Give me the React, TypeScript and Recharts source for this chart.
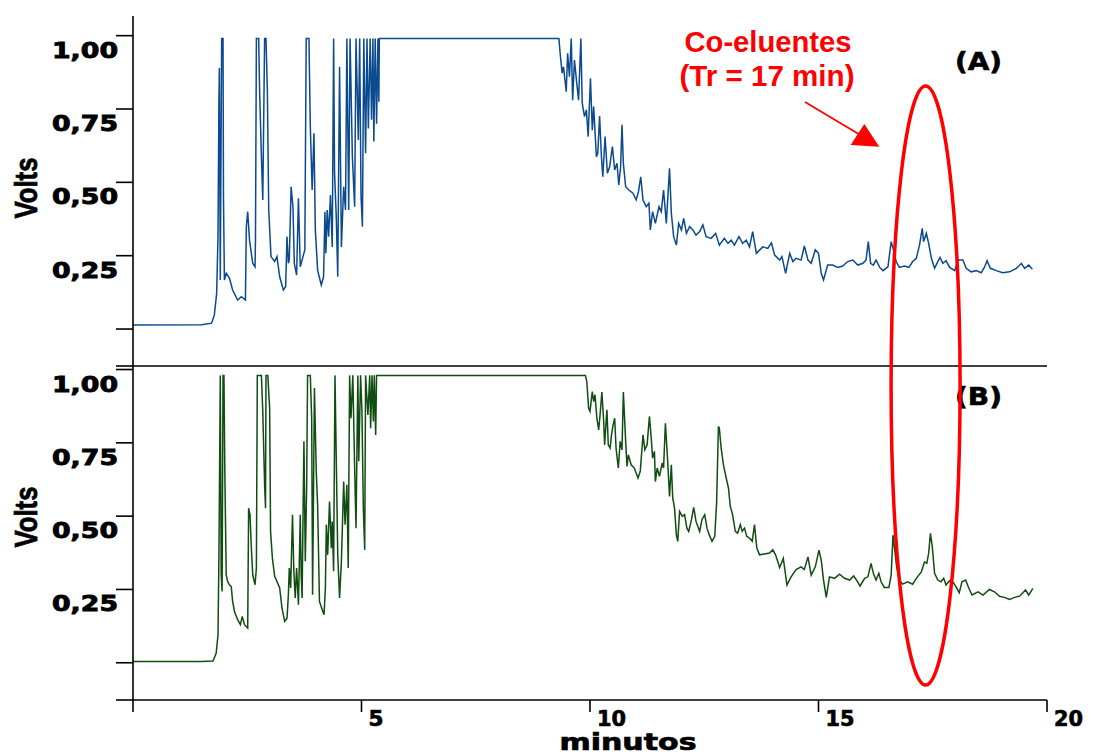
import React from 'react';
import { LineChart, Line, XAxis, YAxis } from 'recharts';

// ---- data: retention time (min) / detector signal (V) ----
const timeTicks = [0, 5, 10, 15, 20];
const voltTicksA = [-0.126, 0, 0.25, 0.5, 0.75, 1];
const voltTicksB = [-0.127, 0, 0.25, 0.5, 0.75, 1];
const voltLabels: Record<string, string> = { '0.25': '0,25', '0.5': '0,50', '0.75': '0,75', '1': '1,00' };
const timeLabels: Record<string, string> = { '5': '5', '10': '10', '15': '15', '20': '20' };

const traceA: [number, number][] = [
  [0, 0.014], [1.5, 0.015], [1.72, 0.02], [1.78, 0.048], [1.83, 0.12], [1.86, 0.315], [1.88, 0.78], [1.89, 0.89],
  [1.91, 0.167], [1.94, 0.99], [1.97, 0.99], [1.98, 0.45], [2.0, 0.167], [2.04, 0.19], [2.11, 0.174], [2.18, 0.133],
  [2.29, 0.099], [2.37, 0.11], [2.46, 0.099], [2.48, 0.349], [2.51, 0.4], [2.55, 0.303], [2.62, 0.224], [2.67, 0.212],
  [2.68, 0.303], [2.7, 0.99], [2.75, 0.99], [2.77, 0.815], [2.81, 0.587], [2.84, 0.44], [2.88, 0.99], [2.91, 0.99],
  [2.94, 0.815], [2.97, 0.406], [3.02, 0.247], [3.1, 0.23], [3.15, 0.247], [3.21, 0.178], [3.29, 0.133], [3.34, 0.144],
  [3.37, 0.315], [3.4, 0.224], [3.42, 0.235], [3.46, 0.485], [3.5, 0.417], [3.53, 0.224], [3.58, 0.184], [3.62, 0.446],
  [3.66, 0.212], [3.72, 0.247], [3.76, 0.27], [3.79, 0.99], [3.85, 0.99], [3.88, 0.69], [3.92, 0.474], [3.96, 0.667],
  [3.99, 0.338], [4.04, 0.2], [4.12, 0.15], [4.17, 0.178], [4.2, 0.4], [4.22, 0.258], [4.25, 0.406], [4.28, 0.315],
  [4.32, 0.457], [4.36, 0.28], [4.39, 0.99], [4.41, 0.536], [4.45, 0.372], [4.48, 0.178], [4.52, 0.894], [4.56, 0.28],
  [4.61, 0.485], [4.65, 0.406], [4.68, 0.99], [4.72, 0.406], [4.75, 0.99], [4.8, 0.587], [4.85, 0.417], [4.88, 0.99],
  [4.93, 0.644], [4.96, 0.99], [4.99, 0.451], [5.02, 0.349], [5.05, 0.99], [5.09, 0.599], [5.12, 0.99], [5.15, 0.684],
  [5.19, 0.99], [5.22, 0.713], [5.25, 0.99], [5.27, 0.639], [5.3, 0.99], [5.33, 0.7], [5.36, 0.99], [5.38, 0.775],
  [5.39, 0.99], [9.32, 0.99], [9.35, 0.934], [9.39, 0.872], [9.42, 0.894], [9.48, 0.809], [9.51, 0.94], [9.55, 0.86],
  [9.59, 0.99], [9.62, 0.78], [9.66, 0.917], [9.71, 0.838], [9.75, 0.78], [9.8, 0.99], [9.83, 0.77], [9.88, 0.724],
  [9.92, 0.747], [9.96, 0.656], [10.01, 0.855], [10.05, 0.678], [10.08, 0.758], [10.14, 0.587], [10.17, 0.599],
  [10.21, 0.726], [10.25, 0.587], [10.28, 0.519], [10.33, 0.656], [10.38, 0.531], [10.43, 0.553], [10.49, 0.622],
  [10.54, 0.542], [10.59, 0.565], [10.63, 0.491], [10.67, 0.553], [10.7, 0.696], [10.73, 0.565], [10.78, 0.485],
  [10.85, 0.474], [10.94, 0.463], [11.01, 0.44], [11.06, 0.468], [11.11, 0.519], [11.16, 0.44], [11.23, 0.417],
  [11.29, 0.429], [11.32, 0.338], [11.37, 0.4], [11.43, 0.36], [11.51, 0.417], [11.56, 0.4], [11.61, 0.474],
  [11.67, 0.36], [11.74, 0.548], [11.78, 0.394], [11.83, 0.315], [11.89, 0.286], [11.94, 0.36], [12.0, 0.338],
  [12.05, 0.377], [12.11, 0.326], [12.18, 0.349], [12.25, 0.338], [12.32, 0.32], [12.4, 0.332], [12.47, 0.355],
  [12.54, 0.315], [12.65, 0.309], [12.75, 0.326], [12.83, 0.286], [12.94, 0.309], [13.02, 0.292], [13.09, 0.303],
  [13.16, 0.286], [13.26, 0.315], [13.34, 0.292], [13.42, 0.303], [13.49, 0.28], [13.56, 0.332], [13.64, 0.258],
  [13.78, 0.28], [13.89, 0.275], [13.97, 0.294], [14.04, 0.252], [14.15, 0.235], [14.2, 0.247], [14.28, 0.19],
  [14.37, 0.258], [14.44, 0.23], [14.51, 0.241], [14.62, 0.235], [14.69, 0.283], [14.77, 0.235], [14.84, 0.224],
  [14.93, 0.27], [15.0, 0.258], [15.06, 0.19], [15.11, 0.167], [15.2, 0.218], [15.31, 0.218], [15.42, 0.21],
  [15.53, 0.215], [15.64, 0.23], [15.75, 0.235], [15.86, 0.218], [15.97, 0.224], [16.04, 0.235], [16.09, 0.298],
  [16.14, 0.224], [16.2, 0.218], [16.26, 0.235], [16.34, 0.21], [16.41, 0.199], [16.52, 0.212], [16.59, 0.298],
  [16.64, 0.27], [16.7, 0.23], [16.77, 0.21], [16.88, 0.215], [16.98, 0.21], [17.06, 0.23], [17.14, 0.241],
  [17.21, 0.286], [17.27, 0.343], [17.3, 0.298], [17.36, 0.326], [17.41, 0.292], [17.47, 0.241], [17.54, 0.207],
  [17.61, 0.23], [17.66, 0.244], [17.72, 0.224], [17.79, 0.233], [17.87, 0.21], [17.98, 0.199], [18.05, 0.235],
  [18.16, 0.235], [18.23, 0.207], [18.34, 0.195], [18.45, 0.199], [18.56, 0.192], [18.63, 0.21], [18.69, 0.233],
  [18.76, 0.207], [18.89, 0.199], [19.03, 0.192], [19.18, 0.195], [19.33, 0.207], [19.44, 0.224], [19.51, 0.207],
  [19.6, 0.218], [19.68, 0.204],
];

const traceB: [number, number][] = [
  [0, 0.004], [1.5, 0.004], [1.75, 0.006], [1.82, 0.032], [1.86, 0.095], [1.88, 0.357], [1.91, 0.98], [1.93, 0.3],
  [1.95, 0.243], [1.97, 0.98], [1.99, 0.98], [2.01, 0.641], [2.04, 0.3], [2.07, 0.277], [2.11, 0.266], [2.15, 0.26],
  [2.18, 0.209], [2.22, 0.175], [2.29, 0.147], [2.35, 0.13], [2.39, 0.158], [2.44, 0.13], [2.51, 0.118], [2.53, 0.527],
  [2.56, 0.505], [2.59, 0.391], [2.62, 0.3], [2.67, 0.266], [2.7, 0.323], [2.72, 0.98], [2.81, 0.98], [2.84, 0.857],
  [2.88, 0.607], [2.9, 0.527], [2.91, 0.98], [2.95, 0.98], [2.99, 0.868], [3.01, 0.448], [3.05, 0.357], [3.1, 0.295],
  [3.15, 0.277], [3.21, 0.255], [3.26, 0.186], [3.32, 0.141], [3.37, 0.152], [3.4, 0.232], [3.42, 0.323], [3.45, 0.255],
  [3.49, 0.505], [3.52, 0.312], [3.55, 0.221], [3.58, 0.323], [3.62, 0.198], [3.66, 0.505], [3.68, 0.3], [3.7, 0.221],
  [3.74, 0.755], [3.77, 0.346], [3.8, 0.596], [3.82, 0.98], [3.88, 0.98], [3.91, 0.834], [3.93, 0.232], [3.97, 0.937],
  [4.01, 0.653], [4.04, 0.539], [4.08, 0.209], [4.13, 0.186], [4.18, 0.164], [4.21, 0.255], [4.23, 0.471], [4.26, 0.368],
  [4.3, 0.55], [4.34, 0.391], [4.36, 0.482], [4.39, 0.312], [4.42, 0.98], [4.45, 0.675], [4.48, 0.368], [4.52, 0.221],
  [4.56, 0.346], [4.61, 0.618], [4.64, 0.471], [4.68, 0.607], [4.71, 0.323], [4.74, 0.98], [4.77, 0.834], [4.81, 0.98],
  [4.85, 0.664], [4.88, 0.459], [4.92, 0.98], [4.94, 0.687], [4.98, 0.98], [5.01, 0.857], [5.04, 0.527], [5.07, 0.385],
  [5.09, 0.98], [5.14, 0.845], [5.18, 0.98], [5.2, 0.8], [5.23, 0.98], [5.26, 0.823], [5.28, 0.98], [5.31, 0.777],
  [5.33, 0.98], [9.9, 0.98], [9.93, 0.959], [9.97, 0.868], [10.0, 0.857], [10.05, 0.925], [10.08, 0.891], [10.11, 0.914],
  [10.15, 0.834], [10.19, 0.794], [10.22, 0.845], [10.26, 0.923], [10.3, 0.823], [10.32, 0.743], [10.37, 0.863],
  [10.4, 0.743], [10.44, 0.732], [10.47, 0.777], [10.5, 0.806], [10.54, 0.834], [10.57, 0.732], [10.62, 0.664],
  [10.66, 0.755], [10.7, 0.726], [10.73, 0.923], [10.78, 0.755], [10.81, 0.67], [10.84, 0.709], [10.9, 0.675],
  [10.97, 0.664], [11.05, 0.63], [11.1, 0.653], [11.16, 0.777], [11.2, 0.726], [11.25, 0.743], [11.3, 0.84],
  [11.34, 0.766], [11.37, 0.698], [11.41, 0.721], [11.43, 0.618], [11.47, 0.664], [11.52, 0.636], [11.58, 0.681],
  [11.61, 0.664], [11.65, 0.817], [11.7, 0.687], [11.74, 0.567], [11.78, 0.675], [11.81, 0.562], [11.85, 0.527],
  [11.89, 0.436], [11.92, 0.414], [11.96, 0.516], [12.02, 0.499], [12.07, 0.505], [12.12, 0.459], [12.16, 0.448],
  [12.22, 0.488], [12.27, 0.53], [12.32, 0.482], [12.4, 0.448], [12.45, 0.488], [12.51, 0.505], [12.56, 0.459],
  [12.61, 0.436], [12.67, 0.414], [12.73, 0.431], [12.77, 0.545], [12.81, 0.806], [12.83, 0.8], [12.87, 0.732],
  [12.92, 0.675], [12.98, 0.63], [13.03, 0.596], [13.07, 0.533], [13.12, 0.505], [13.18, 0.448], [13.23, 0.442],
  [13.29, 0.471], [13.33, 0.448], [13.38, 0.459], [13.43, 0.431], [13.49, 0.425], [13.55, 0.414], [13.6, 0.471],
  [13.65, 0.391], [13.71, 0.368], [13.82, 0.371], [13.93, 0.374], [14.0, 0.385], [14.06, 0.368], [14.15, 0.325],
  [14.23, 0.356], [14.31, 0.265], [14.4, 0.293], [14.51, 0.318], [14.62, 0.327], [14.69, 0.318], [14.77, 0.361],
  [14.84, 0.299], [14.93, 0.327], [15.01, 0.384], [15.06, 0.35], [15.11, 0.282], [15.17, 0.223], [15.24, 0.293],
  [15.35, 0.288], [15.46, 0.302], [15.57, 0.288], [15.68, 0.282], [15.77, 0.296], [15.84, 0.28], [15.91, 0.262],
  [16.01, 0.288], [16.08, 0.293], [16.15, 0.339], [16.2, 0.305], [16.26, 0.282], [16.32, 0.305], [16.37, 0.276],
  [16.44, 0.257], [16.54, 0.257], [16.59, 0.299], [16.63, 0.435], [16.66, 0.395], [16.71, 0.327], [16.77, 0.282],
  [16.84, 0.268], [16.95, 0.276], [17.06, 0.268], [17.14, 0.288], [17.25, 0.31], [17.32, 0.344], [17.37, 0.339],
  [17.41, 0.373], [17.45, 0.441], [17.49, 0.395], [17.54, 0.305], [17.61, 0.282], [17.68, 0.276], [17.74, 0.288],
  [17.79, 0.265], [17.87, 0.28], [17.94, 0.276], [18.01, 0.259], [18.08, 0.239], [18.14, 0.276], [18.22, 0.282],
  [18.29, 0.254], [18.36, 0.231], [18.49, 0.242], [18.6, 0.231], [18.74, 0.25], [18.85, 0.242], [18.96, 0.227],
  [19.07, 0.223], [19.18, 0.216], [19.29, 0.223], [19.4, 0.227], [19.53, 0.248], [19.6, 0.231], [19.69, 0.254],
];

const dataA = traceA.map(([t, v]) => ({ t, v }));
const dataB = traceB.map(([t, v]) => ({ t, v }));

const BOLD = '"DejaVu Sans", sans-serif';
const ARIAL = '"Liberation Sans", Arial, sans-serif';

const YTick = (props: any) => {
  const { x, y, payload } = props;
  const label = voltLabels[String(payload.value)];
  if (!label) return <g />;
  return (
    <text x={x + 4} y={y + 22} textAnchor="end" fontFamily={BOLD} fontWeight="bold" fontSize={22}
      fill="#000" stroke="#000" strokeWidth={0.9} textLength={66} lengthAdjust="spacingAndGlyphs">{label}</text>
  );
};

const XTick = (props: any) => {
  const { x, y, payload } = props;
  const label = timeLabels[String(payload.value)];
  if (!label) return <g />;
  return (
    <text x={x + 7} y={y + 12} textAnchor="start" fontFamily={BOLD} fontWeight="bold" fontSize={22} fill="#000"
      stroke="#000" strokeWidth={0.7} textLength={label.length === 1 ? 15 : 29} lengthAdjust="spacingAndGlyphs">{label}</text>
  );
};

const axisStroke = { stroke: '#000', strokeWidth: 1.6 };

export default function App() {
  return (
    <div style={{ position: 'absolute', left: 0, top: 0, width: 1098, height: 756, background: '#fff', overflow: 'hidden' }}>
      <div style={{ position: 'absolute', left: 0, top: 0 }}>
        <LineChart width={1098} height={380} data={dataA} margin={{ top: 16, right: 51, bottom: 0, left: 0 }}>
          <XAxis dataKey="t" type="number" domain={[0, 20]} ticks={timeTicks} height={14} tick={false}
            tickLine={false} axisLine={axisStroke} allowDataOverflow />
          <YAxis type="number" domain={[-0.126, 1.067]} ticks={voltTicksA} width={133} tickSize={17}
            tick={<YTick />} tickLine={axisStroke} axisLine={axisStroke} interval={0} allowDataOverflow />
          <Line type="linear" dataKey="v" stroke="#0b4a8e" strokeWidth={1.5} dot={false} isAnimationActive={false} />
        </LineChart>
      </div>
      <div style={{ position: 'absolute', left: 0, top: 350 }}>
        <LineChart width={1098} height={406} data={dataB} margin={{ top: 16, right: 51, bottom: 0, left: 0 }}>
          <XAxis dataKey="t" type="number" domain={[0, 20]} ticks={timeTicks} height={56} tickSize={12}
            tick={<XTick />} tickLine={axisStroke} axisLine={axisStroke} interval={0} allowDataOverflow />
          <YAxis type="number" domain={[-0.127, 1.012]} ticks={voltTicksB} width={133} tickSize={17}
            tick={<YTick />} tickLine={axisStroke} axisLine={axisStroke} interval={0} allowDataOverflow />
          <Line type="linear" dataKey="v" stroke="#0f4d10" strokeWidth={1.5} dot={false} isAnimationActive={false} />
        </LineChart>
      </div>
      <svg width={1098} height={756} style={{ position: 'absolute', left: 0, top: 0, pointerEvents: 'none' }}>
        <text transform="translate(37,188) rotate(-90)" textAnchor="middle" fontFamily={ARIAL} fontWeight="bold"
          fontSize={32} fill="#000" stroke="#000" strokeWidth={0.8} textLength={61} lengthAdjust="spacingAndGlyphs">Volts</text>
        <text transform="translate(37,517) rotate(-90)" textAnchor="middle" fontFamily={ARIAL} fontWeight="bold"
          fontSize={32} fill="#000" stroke="#000" strokeWidth={0.8} textLength={61} lengthAdjust="spacingAndGlyphs">Volts</text>
        <text x={628} y={750} textAnchor="middle" fontFamily={BOLD} fontWeight="bold" fontSize={23} fill="#000"
          stroke="#000" strokeWidth={0.7} textLength={137} lengthAdjust="spacingAndGlyphs">minutos</text>
        <text x={955} y={70} fontFamily={BOLD} fontWeight="bold" fontSize={24} fill="#000" stroke="#000" strokeWidth={0.6}
          textLength={47} lengthAdjust="spacingAndGlyphs">(A)</text>
        <text x={955} y={405} fontFamily={BOLD} fontWeight="bold" fontSize={24} fill="#000" stroke="#000" strokeWidth={0.6}
          textLength={47} lengthAdjust="spacingAndGlyphs">(B)</text>
        <text x={768} y={52} textAnchor="middle" fontFamily={ARIAL} fontWeight="bold" fontSize={29} fill="#fe0000"
          textLength={167} lengthAdjust="spacingAndGlyphs">Co-eluentes</text>
        <text x={767} y={86} textAnchor="middle" fontFamily={ARIAL} fontWeight="bold" fontSize={29} fill="#fe0000"
          textLength={175} lengthAdjust="spacingAndGlyphs">(Tr = 17 min)</text>
        <line x1={805} y1={102} x2={862} y2={136} stroke="#fe0000" strokeWidth={1.8} />
        <polygon points="879.3,146.7 850.7,145 864.3,124" fill="#fe0000" />
        <ellipse cx={925.6} cy={385.5} rx={34.5} ry={299.5} fill="none" stroke="#fe0000" strokeWidth={3.5} />
      </svg>
    </div>
  );
}
